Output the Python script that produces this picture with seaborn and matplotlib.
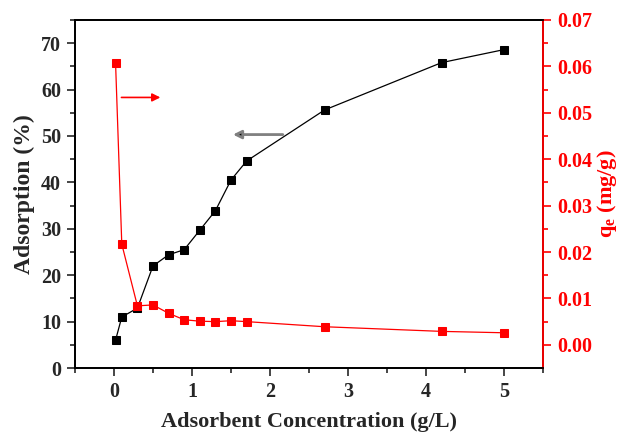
import matplotlib
matplotlib.use("Agg")
import matplotlib.pyplot as plt
import seaborn as sns
import pandas as pd

# Datos
dosis = [0.02, 0.1, 0.3, 0.5, 0.7, 0.9, 1.1, 1.3, 1.5, 1.7, 2.7, 4.2, 5.0]
adsorcion = [6.0, 11.0, 12.9, 22.0, 24.4, 25.5, 29.7, 33.9, 40.5, 44.6, 55.6, 65.8, 68.6]
qe = [0.0608, 0.0217, 0.0084, 0.0086, 0.0068, 0.0054, 0.0051, 0.0050, 0.0052, 0.0050, 0.0039, 0.0029, 0.0026]

df = pd.DataFrame({"dosis": dosis, "adsorcion": adsorcion, "qe": qe})

sns.set_style("ticks")
plt.rcParams["font.family"] = ["Liberation Serif", "DejaVu Serif"]
plt.rcParams["font.weight"] = "bold"
plt.rcParams["mathtext.fontset"] = "custom"
plt.rcParams["mathtext.rm"] = "Liberation Serif:bold"

fig = plt.figure(figsize=(6.27, 4.33), dpi=100)
ax = fig.add_axes([0.1196, 0.150, 0.7464, 0.804])
ax2 = ax.twinx()

sns.lineplot(data=df, x="dosis", y="adsorcion", ax=ax, color="black",
             marker="s", markersize=6, markeredgecolor="black", linewidth=0.9)
sns.lineplot(data=df, x="dosis", y="qe", ax=ax2, color="red",
             marker="s", markersize=6, markeredgecolor="red", linewidth=0.9)

ax.set_xlim(-0.5, 5.5)
ax.set_ylim(0, 75)
ax2.set_ylim(-0.005, 0.07)
ax.set_xticks(range(0, 6))
ax.set_xticks([x + 0.5 for x in range(-1, 6)], minor=True)
ax.set_yticks(range(0, 80, 10))
ax.set_yticks(range(5, 80, 10), minor=True)
ax2.set_yticks([0.0, 0.01, 0.02, 0.03, 0.04, 0.05, 0.06, 0.07])
ax2.set_yticks([0.005, 0.015, 0.025, 0.035, 0.045, 0.055, 0.065], minor=True)
ax2.set_yticklabels(["0.00", "0.01", "0.02", "0.03", "0.04", "0.05", "0.06", "0.07"])

for a in (ax, ax2):
    a.tick_params(which="major", length=6, width=1.2, labelsize=14.5, pad=4)
    a.tick_params(which="minor", length=3.5, width=1.2)
    for s in a.spines.values():
        s.set_visible(True)
        s.set_linewidth(1.3)
        s.set_color("black")

ax2.spines["right"].set_color("red")
ax2.tick_params(axis="y", which="both", colors="red")
for lbl in ax2.get_yticklabels():
    lbl.set_color("red")
    lbl.set_fontweight("bold")
for lbl in ax.get_xticklabels() + ax.get_yticklabels():
    lbl.set_fontweight("bold")

ax.set_xlabel("Adsorbent Concentration (g/L)", fontsize=16, fontweight="bold", labelpad=7)
ax.set_ylabel("Adsorption (%)", fontsize=17, fontweight="bold", labelpad=4)
ax2.set_ylabel(r"q$_\mathregular{e}$ (mg/g)", fontsize=16, fontweight="bold", color="red", labelpad=2)

# Flechas indicando el eje de cada serie
ax.annotate("", xy=(0.63, 58.3), xytext=(0.06, 58.3),
            arrowprops=dict(arrowstyle="-|>", color="red", lw=1.2, mutation_scale=12))
ax.annotate("", xy=(1.49, 50.3), xytext=(2.2, 50.3),
            arrowprops=dict(arrowstyle="-|>", edgecolor="gray", facecolor="black",
                            lw=2, mutation_scale=12))

plt.savefig("out.png", dpi=100)
